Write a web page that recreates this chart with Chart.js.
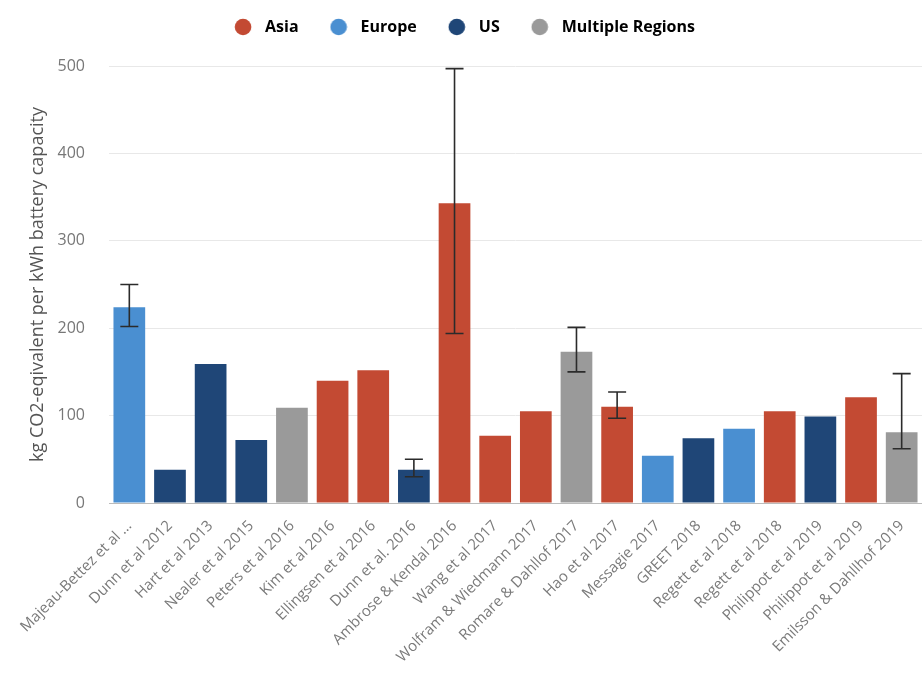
<!DOCTYPE html>
<html>
<head>
<meta charset="utf-8">
<script src="https://cdn.jsdelivr.net/npm/chart.js@4.4.1/dist/chart.umd.min.js"></script>
<style>
  html, body { margin: 0; padding: 0; background: #ffffff; }
  #wrap { width: 922px; height: 674px; position: relative; }
</style>
</head>
<body>
<div id="wrap"><canvas id="c" width="922" height="674"></canvas></div>
<script>
const categories = [
  "Majeau-Bettez et al ...", "Dunn et al 2012", "Hart et al 2013", "Nealer et al 2015",
  "Peters et al 2016", "Kim et al 2016", "Ellingsen et al 2016", "Dunn et al. 2016",
  "Ambrose & Kendal 2016", "Wang et al 2017", "Wolfram & Wiedmann 2017", "Romare & Dahllof 2017",
  "Hao et al 2017", "Messagie 2017", "GREET 2018", "Regett et al 2018",
  "Regett et al 2018", "Philippot et al 2019", "Philippot et al 2019", "Emilsson & Dahllhof 2019"
];
const values = [224, 38, 159, 72, 109, 140, 152, 38, 343, 77, 105, 173, 110, 54, 74, 85, 105, 99, 121, 81];
const regions = [
  "Europe", "US", "US", "US", "Multiple Regions", "Asia", "Asia", "US",
  "Asia", "Asia", "Asia", "Multiple Regions", "Asia", "Europe", "US", "Europe",
  "Asia", "US", "Asia", "Multiple Regions"
];
const errLow  = [202, null, null, null, null, null, null, 30, 194, null, null, 150, 97, null, null, null, null, null, null, 62];
const errHigh = [250, null, null, null, null, null, null, 50, 497, null, null, 201, 127, null, null, null, null, null, null, 148];
const regionNames = ["Asia", "Europe", "US", "Multiple Regions"];
const yTicks = [0, 100, 200, 300, 400, 500];
const yTitle = "kg CO2-eqivalent per kWh battery capacity";

const regionColors = {
  "Asia": "#c34a33",
  "Europe": "#4a8fd1",
  "US": "#1f4677",
  "Multiple Regions": "#9a9a9a"
};

function dotIcon(color) {
  const cv = document.createElement("canvas");
  cv.width = 18; cv.height = 18;
  const g = cv.getContext("2d");
  g.fillStyle = color;
  g.beginPath();
  g.arc(9, 9, 8.3, 0, Math.PI * 2);
  g.fill();
  return cv;
}
const regionIcons = {};
regionNames.forEach(n => { regionIcons[n] = dotIcon(regionColors[n]); });

const errorBarPlugin = {
  id: "errorBars",
  afterDatasetsDraw(chart) {
    const ctx = chart.ctx;
    const meta = chart.getDatasetMeta(0);
    const y = chart.scales.y;
    ctx.save();
    ctx.strokeStyle = "#2b2b2b";
    ctx.lineWidth = 1.6;
    meta.data.forEach((bar, i) => {
      if (errLow[i] == null || errHigh[i] == null) return;
      const x = bar.x;
      const yt = y.getPixelForValue(errHigh[i]);
      const yb = y.getPixelForValue(errLow[i]);
      const cap = 9;
      ctx.beginPath();
      ctx.moveTo(x, yt); ctx.lineTo(x, yb);
      ctx.moveTo(x - cap, yt); ctx.lineTo(x + cap, yt);
      ctx.moveTo(x - cap, yb); ctx.lineTo(x + cap, yb);
      ctx.stroke();
    });
    ctx.restore();
  }
};

const legendSpacingPlugin = {
  id: "legendSpacing",
  beforeLayout(chart) {
    const lg = chart.legend;
    if (lg && !lg._extraPatched) {
      const orig = lg.fit;
      lg.fit = function () { orig.call(this); this.height += 21; };
      lg._extraPatched = true;
    }
  }
};

new Chart(document.getElementById("c"), {
  type: "bar",
  data: {
    labels: categories,
    datasets: [{
      data: values,
      backgroundColor: regions.map(r => regionColors[r]),
      borderWidth: 0,
      categoryPercentage: 1.0,
      barPercentage: 0.78
    }]
  },
  options: {
    responsive: false,
    animation: false,
    layout: { padding: { top: -7, right: -2, left: 0, bottom: 0 } },
    plugins: {
      tooltip: { enabled: false },
      legend: {
        position: "top",
        align: "center",
        labels: {
          usePointStyle: true,
          pointStyleWidth: 28,
          boxHeight: 16,
          padding: 26,
          color: "#333333",
          font: { family: "Open Sans", size: 16, weight: "bold" },
          generateLabels: () => regionNames.map(n => ({
            text: n,
            fillStyle: regionColors[n],
            strokeStyle: regionColors[n],
            lineWidth: 0,
            pointStyle: regionIcons[n],
            hidden: false
          }))
        }
      }
    },
    scales: {
      x: {
        grid: { display: false, drawTicks: false },
        border: { display: true, color: "#bbbbbb", width: 1, dash: [3, 3] },
        ticks: {
          autoSkip: false,
          minRotation: 45,
          maxRotation: 45,
          padding: 14,
          color: "#7a7a7a",
          font: { family: "Open Sans", size: 15 }
        },
        afterFit(scale) {
          scale.height = 171;
          scale.paddingRight = 0;
          scale.paddingLeft = 0;
        }
      },
      y: {
        min: 0,
        max: 500,
        afterBuildTicks(scale) { scale.ticks = yTicks.map(v => ({ value: v })); },
        grid: { color: "#e8e8e8", lineWidth: 1, drawTicks: false },
        border: { display: false },
        ticks: {
          padding: 24,
          color: "#777777",
          font: { family: "Open Sans", size: 16 }
        },
        title: {
          display: true,
          text: yTitle,
          color: "#555555",
          font: { family: "Open Sans", size: 18 },
          padding: { top: 27, bottom: 0 }
        },
        afterFit(scale) { scale.width = 109; }
      }
    }
  },
  plugins: [errorBarPlugin, legendSpacingPlugin]
});
</script>
</body>
</html>
